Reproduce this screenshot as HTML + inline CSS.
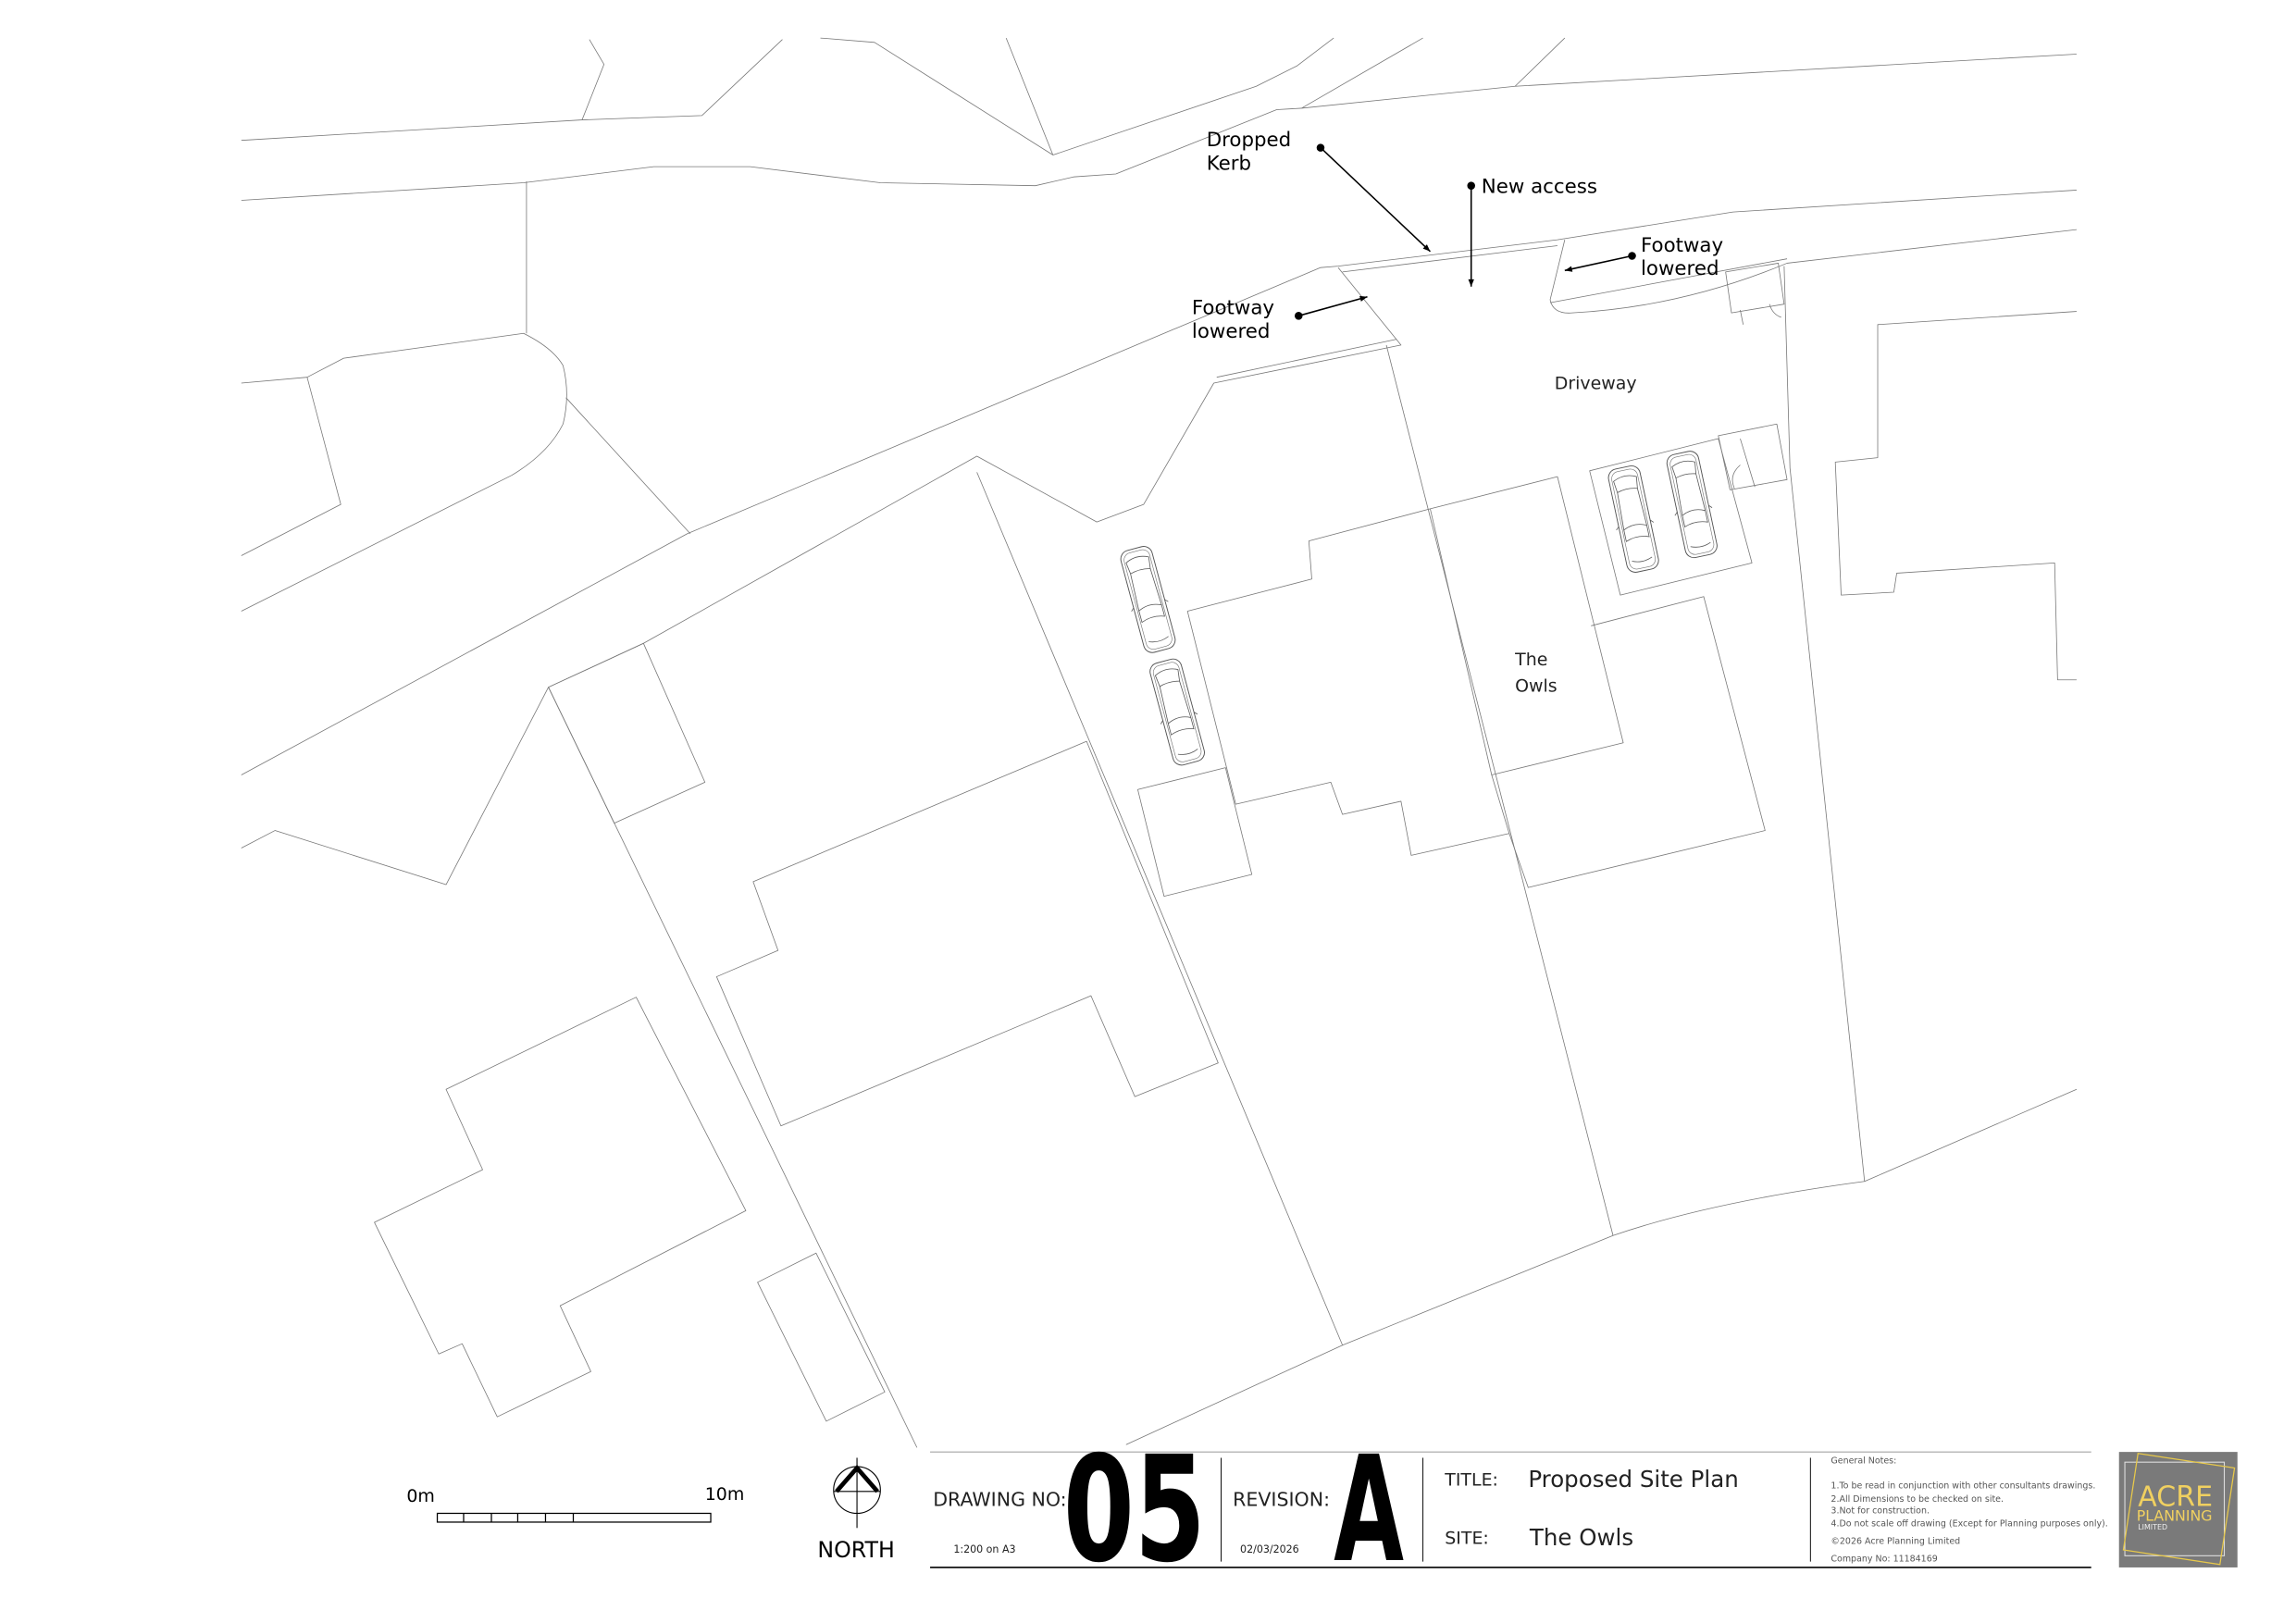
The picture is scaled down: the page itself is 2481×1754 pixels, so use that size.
<!DOCTYPE html>
<html><head><meta charset="utf-8">
<style>
html,body{margin:0;padding:0;background:#fff;}
svg{display:block;}
text{font-family:"DejaVu Sans","Liberation Sans",sans-serif;}
</style></head>
<body>
<svg width="2481" height="1754" viewBox="0 0 1570 1110" xmlns="http://www.w3.org/2000/svg">
<defs>
<marker id="ah" viewBox="0 0 10 10" refX="10" refY="5" markerWidth="7" markerHeight="5" orient="auto" markerUnits="userSpaceOnUse">
<path d="M0,1 L10,5 L0,9 Z" fill="#000"/></marker>
<g id="car">
<rect x="-11" y="-36" width="22" height="72" rx="6" fill="none" stroke="#555" stroke-width="0.6"/>
<rect x="-9" y="-34" width="18" height="68" rx="5" fill="none" stroke="#777" stroke-width="0.4"/>
<path d="M-8,-28 Q0,-32 8,-28 L7,-20 Q0,-22 -7,-20 Z" fill="none" stroke="#555" stroke-width="0.5"/>
<path d="M-8,6 Q0,2 8,6 L8,14 Q0,11 -8,14 Z" fill="none" stroke="#555" stroke-width="0.5"/>
<path d="M-7,-20 L-8,6 M7,-20 L8,6 M-11,3 L-13,5 M11,3 L13,5" fill="none" stroke="#555" stroke-width="0.5"/>
<path d="M-7,28 Q0,31 7,28" fill="none" stroke="#555" stroke-width="0.5"/>
</g>
</defs>
<g fill="none" stroke="#777" stroke-width="0.5" stroke-linejoin="round">
<polyline points="165,96 398,82 480,79 535,27"/>
<polyline points="403,27 413,44 398,82"/>
<polyline points="561,26 598,29 720,106"/>
<polyline points="688,26 720,106"/>
<polyline points="720,106 859,59 887,45 912,26"/>
<polyline points="973,26 890,74 1036,59 1420,37"/>
<polyline points="1070,26 1036,59"/>
<polyline points="165,137 358,125 447,114 513,114 602,125 708,127 734,121 763,119 873,75 890,74"/>
<polyline points="360,124 360,228"/>
<path d="M165,262 L210,258 L235,245 L358,228 Q378,238 385,250 Q390,270 385,290 Q375,310 350,325 L165,418"/>
<polyline points="210,258 233,345 165,380"/>
<polyline points="387,272 472,365"/>
<polyline points="165,530 470,365 903,183 915,182 1065,164 1185,145 1420,130"/>
<polyline points="918,186 1065,168"/>
<polyline points="165,580 188,568 305,605 375,470 440,440 668,312 750,357 782,345 830,262 958,236 915,183"/>
<polyline points="832,258 955,232"/>
<path d="M1070,164 L1060,205 Q1062,215 1075,214 Q1150,210 1222,180 L1420,157"/>
<polyline points="1060,207 1222,177"/>
<polygon points="375,470 420,563 482,535 440,440"/>
<polyline points="375,470 627,990"/>
<polyline points="668,323 918,920 770,988"/>
<polygon points="515,603 743,507 833,727 776,750 746,681 534,770 490,668 532,650"/>
<polygon points="305,745 435,682 510,828 383,893 404,938 340,969 316,919 300,926 256,836 330,800"/>
<polygon points="518,877 558,857 605,952 565,972"/>
<polyline points="948,236 1103,845"/>
<path d="M918,920 L1103,845 Q1170,822 1275,808 L1420,745"/>
<polyline points="1220,182 1224,320 1275,808"/>
<polyline points="1420,213 1284,222 1284,313 1255,316 1259,407 1295,405 1297,392 1405,385 1407,465 1420,465"/>
<polygon points="812,418 897,396 895,370 978,348 1065,326 1110,508 1020,530 1032,570 965,585 958,548 918,557 910,535 845,550"/>
<polyline points="978,348 1020,530"/>
<polyline points="1088,428 1165,408 1207,568 1045,607 1032,570"/>
<polygon points="1087,322 1175,300 1198,385 1108,407"/>
<polygon points="778,540 838,525 856,598 796,613"/>
<polygon points="1175,298 1215,290 1222,328 1183,335"/>
<polyline points="1190,300 1200,333"/>
<path d="M1190,318 Q1182,325 1186,334"/>
<polygon points="1180,186 1216,180 1220,208 1184,214"/>
<path d="M1190,212 L1192,222 M1210,208 Q1212,215 1218,217"/>
</g>
<g transform="translate(785,410) rotate(-15)"><use href="#car"/></g>
<g transform="translate(805,487) rotate(-15)"><use href="#car"/></g>
<g transform="translate(1117,355) rotate(-12)"><use href="#car"/></g>
<g transform="translate(1157,345) rotate(-12)"><use href="#car"/></g>
<g stroke="#000" stroke-width="1" fill="#000">
<circle cx="903" cy="101" r="2.2"/><line x1="903" y1="101" x2="978" y2="172" marker-end="url(#ah)"/>
<circle cx="1006" cy="127" r="2.2"/><line x1="1006" y1="127" x2="1006" y2="196" marker-end="url(#ah)"/>
<circle cx="1116" cy="175" r="2.2"/><line x1="1116" y1="175" x2="1070" y2="185" marker-end="url(#ah)"/>
<circle cx="888" cy="216" r="2.2"/><line x1="888" y1="216" x2="935" y2="203" marker-end="url(#ah)"/>
</g>
<g font-size="13.5" fill="#000">
<text x="825" y="100">Dropped</text><text x="825" y="116">Kerb</text>
<text x="1013" y="132">New access</text>
<text x="1122" y="172">Footway</text><text x="1122" y="188">lowered</text>
<text x="815" y="215">Footway</text><text x="815" y="231">lowered</text>
</g>
<g font-size="12" fill="#222">
<text x="1063" y="266">Driveway</text>
<text x="1036" y="455">The</text><text x="1036" y="473">Owls</text>
</g>
<g stroke="#000" stroke-width="0.8" fill="none">
<rect x="299" y="1035" width="187" height="6"/>
<path d="M317,1035v6M336,1035v6M354,1035v6M373,1035v6M392,1035v6"/>
</g>
<text x="278" y="1027" font-size="12">0m</text>
<text x="482" y="1026" font-size="12">10m</text>
<g stroke="#000" fill="none">
<circle cx="586" cy="1019" r="16" stroke-width="0.7"/>
<line x1="586" y1="997" x2="586" y2="1045" stroke-width="0.7"/>
<line x1="570" y1="1020" x2="602" y2="1020" stroke-width="0.7"/>
<polyline points="572,1020 586,1004 600,1020" stroke-width="3"/>
</g>
<text x="559" y="1065" font-size="15" font-family="Liberation Sans">NORTH</text>
<line x1="636" y1="993" x2="1430" y2="993" stroke="#777" stroke-width="0.5"/>
<line x1="636" y1="1072" x2="1430" y2="1072" stroke="#000" stroke-width="1"/>
<g stroke="#000" stroke-width="0.6">
<line x1="835" y1="997" x2="835" y2="1068"/>
<line x1="973" y1="997" x2="973" y2="1068"/>
<line x1="1238" y1="997" x2="1238" y2="1068"/>
</g>
<text x="638" y="1030" font-size="13" fill="#222">DRAWING NO:</text>
<text x="652" y="1062" font-size="7" fill="#222">1:200 on A3</text>
<text transform="translate(727,1067) scale(0.7,1)" font-size="100" font-weight="bold" font-family="Liberation Sans">05</text>
<text x="843" y="1030" font-size="13" fill="#222">REVISION:</text>
<text x="848" y="1062" font-size="7" fill="#222">02/03/2026</text>
<text transform="translate(912,1067) scale(0.62,1)" font-size="100" font-weight="bold" font-family="Liberation Sans">A</text>
<text x="988" y="1016" font-size="12" fill="#222">TITLE:</text>
<text x="1045" y="1017" font-size="15.5" fill="#222">Proposed Site Plan</text>
<text x="988" y="1056" font-size="12" fill="#222">SITE:</text>
<text x="1046" y="1057" font-size="15.5" fill="#222">The Owls</text>
<g font-size="6" fill="#555">
<text x="1252" y="1001">General Notes:</text>
<text x="1252" y="1018">1.To be read in conjunction with other consultants drawings.</text>
<text x="1252" y="1027">2.All Dimensions to be checked on site.</text>
<text x="1252" y="1035">3.Not for construction.</text>
<text x="1252" y="1044">4.Do not scale off drawing (Except for Planning purposes only).</text>
<text x="1252" y="1056">©2026 Acre Planning Limited</text>
<text x="1252" y="1068">Company No: 11184169</text>
</g>
<rect x="1449" y="993" width="81" height="79" fill="#7a7a7a"/>
<rect x="1453" y="1000" width="68" height="64" fill="none" stroke="#ddd" stroke-width="0.7"/>
<polygon points="1462,994 1528,1004 1518,1070 1452,1060" fill="none" stroke="#e8c94a" stroke-width="0.8"/>
<text x="1462" y="1030" font-size="19" fill="#f0d060" font-family="Liberation Sans">ACRE</text>
<text x="1461" y="1040" font-size="10" fill="#f0d060" font-family="Liberation Sans">PLANNING</text>
<text x="1462" y="1046" font-size="5" fill="#eee" font-family="Liberation Sans">LIMITED</text>
</svg>
</body></html>
